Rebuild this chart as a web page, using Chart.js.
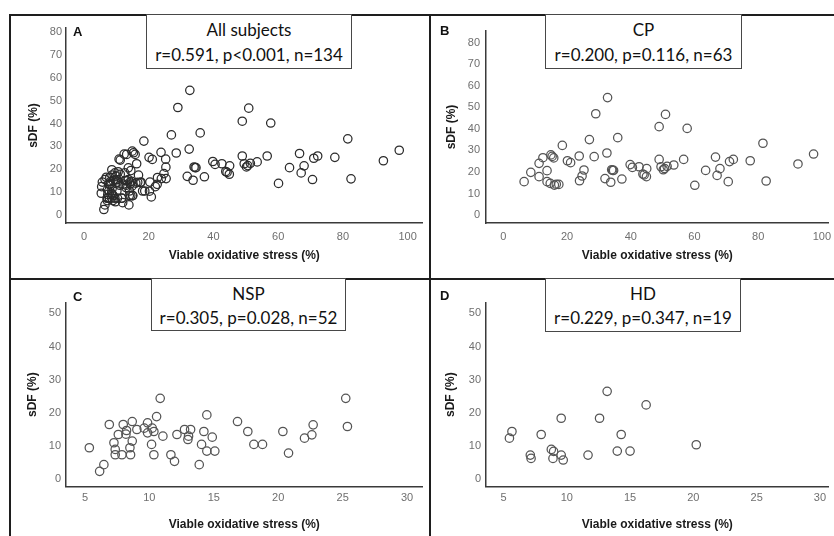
<!DOCTYPE html>
<html><head><meta charset="utf-8">
<script src="https://cdn.jsdelivr.net/npm/chart.js@4"></script>
<style>
html,body{margin:0;padding:0;background:#fff;}
body{width:834px;height:536px;position:relative;overflow:hidden;font-family:"Liberation Sans",Arial,sans-serif;}
canvas{position:absolute;}
.ln{position:absolute;background:#1e1e1e;}
.box{position:absolute;background:#fff;border:1.5px solid #474747;box-sizing:border-box;font-family:Lato,"Open Sans",sans-serif;font-size:17px;color:#111;text-align:center;}
.box div{position:absolute;left:0;right:0;line-height:20px;white-space:nowrap;}
.lbl{position:absolute;font-weight:bold;font-size:13px;line-height:13px;color:#111;}
</style></head>
<body>
<canvas id="cA" width="428" height="276" style="left:0;top:0;width:428px;height:276px"></canvas>
<canvas id="cB" width="402" height="276" style="left:432px;top:0;width:402px;height:276px"></canvas>
<canvas id="cC" width="428" height="256" style="left:0;top:280px;width:428px;height:256px"></canvas>
<canvas id="cD" width="402" height="256" style="left:432px;top:280px;width:402px;height:256px"></canvas>

<div class="ln" style="left:9px;top:14px;width:825px;height:2px"></div>
<div class="ln" style="left:9px;top:14px;width:2px;height:522px"></div>
<div class="ln" style="left:429px;top:14px;width:2px;height:522px"></div>
<div class="ln" style="left:9px;top:278px;width:825px;height:2px"></div>

<div class="box" style="left:146px;top:14px;width:206px;height:55px"><div style="top:5px">All subjects</div><div style="top:30px">r=0.591, p&lt;0.001, n=134</div></div>
<div class="box" style="left:545px;top:14px;width:197px;height:55px"><div style="top:5px">CP</div><div style="top:30px">r=0.200, p=0.116, n=63</div></div>
<div class="box" style="left:151px;top:278px;width:195px;height:53px"><div style="top:5px">NSP</div><div style="top:29px">r=0.305, p=0.028, n=52</div></div>
<div class="box" style="left:545px;top:278px;width:196px;height:54px"><div style="top:5px">HD</div><div style="top:29px">r=0.229, p=0.347, n=19</div></div>

<div class="lbl" style="left:73px;top:25px">A</div>
<div class="lbl" style="left:440px;top:24px">B</div>
<div class="lbl" style="left:73px;top:290px">C</div>
<div class="lbl" style="left:440px;top:289px">D</div>

<script>
// ---- data ----
const xTitle = 'Viable oxidative stress (%)';
const yTitle = 'sDF (%)';

const cpX = [6.5, 8.6, 11.2, 11.2, 12.4, 13.7, 13.7, 14.7, 14.9, 15.8, 16.0, 17.4, 18.5, 20.1, 21.1, 23.8, 23.9, 24.7, 25.3, 27.0, 28.5, 29.0, 32.5, 31.9, 32.7, 33.7, 34.3, 34.6, 35.9, 37.2, 39.8, 40.5, 42.6, 43.8, 44.9, 45.0, 48.9, 48.9, 49.5, 50.2, 50.9, 51.4, 53.5, 56.6, 57.7, 60.1, 63.5, 66.6, 67.1, 68.0, 70.6, 71.0, 72.2, 77.5, 81.5, 82.5, 92.5, 97.4, 15.3, 34.0, 50.6, 44.2, 16.6];
const cpY = [15.5, 19.8, 24.0, 17.8, 26.6, 20.6, 15.5, 14.7, 27.9, 26.5, 13.9, 14.2, 32.3, 25.2, 24.3, 27.4, 15.9, 18.1, 20.9, 35.0, 27.1, 47.0, 28.8, 16.9, 54.5, 15.2, 20.7, 20.7, 35.9, 16.7, 23.4, 22.1, 22.4, 19.0, 17.8, 21.5, 41.0, 25.8, 22.4, 21.0, 46.7, 22.6, 23.2, 25.8, 40.2, 13.8, 20.7, 26.9, 18.4, 21.5, 15.5, 24.8, 25.8, 25.2, 33.3, 15.8, 23.7, 28.3, 27.2, 21.0, 21.6, 18.6, 14.3];

const nspX = [5.34, 6.14, 6.47, 6.89, 7.25, 7.35, 7.35, 7.59, 7.97, 7.87, 8.18, 8.23, 8.49, 8.54, 8.67, 8.67, 9.03, 9.60, 9.86, 9.86, 10.17, 10.22, 10.35, 10.35, 10.56, 10.84, 11.05, 11.67, 11.95, 12.14, 12.73, 12.99, 13.04, 13.20, 13.87, 14.05, 14.23, 14.46, 14.46, 14.88, 15.08, 16.84, 17.64, 18.11, 18.78, 20.36, 20.80, 22.04, 22.61, 22.71, 25.24, 25.37];
const nspY = [9.5, 2.4, 4.4, 16.5, 11.0, 9.0, 7.4, 13.5, 16.5, 7.4, 13.6, 14.7, 9.5, 7.4, 17.4, 11.5, 15.0, 15.4, 17.0, 14.0, 10.5, 15.4, 14.4, 7.4, 18.9, 24.4, 13.0, 7.4, 5.4, 13.5, 15.0, 12.0, 13.0, 15.0, 4.4, 10.5, 14.4, 19.4, 8.5, 12.7, 8.5, 17.4, 14.4, 10.5, 10.5, 14.4, 7.9, 12.4, 13.4, 16.4, 24.4, 15.9];

const hdX = [5.67, 5.47, 7.98, 7.12, 7.18, 9.56, 8.78, 8.96, 8.91, 9.56, 9.72, 11.68, 12.59, 13.19, 14.30, 13.99, 15.00, 16.27, 20.23];
const hdY = [14.4, 12.4, 13.5, 7.3, 6.3, 18.4, 9.0, 8.4, 6.3, 7.3, 5.8, 7.3, 18.4, 26.5, 13.5, 8.5, 8.5, 22.4, 10.4];

const allX = cpX.concat(nspX, hdX);
const allY = cpY.concat(nspY, hdY);

const ticksWideX = [0, 20, 40, 60, 80, 100];
const ticksWideY = [0, 10, 20, 30, 40, 50, 60, 70, 80];
const ticksNarrowX = [5, 10, 15, 20, 25, 30];
const ticksNarrowY = [0, 10, 20, 30, 40, 50];

// ---- drawing ----
const zip = (xs, ys) => xs.map((x, i) => ({x: x, y: ys[i]}));
const tickFont = {family: 'Liberation Sans', size: 11};
const titleFont = {family: 'Liberation Sans', size: 12, weight: 'bold'};

function makeChart(id, pts, o) {
  return new Chart(document.getElementById(id), {
    type: 'scatter',
    data: {datasets: [{
      data: pts,
      pointRadius: 4.2, pointHoverRadius: 4.2,
      pointBorderWidth: 1.25,
      pointBorderColor: o.color,
      pointBackgroundColor: 'rgba(255,255,255,0)',
      showLine: false
    }]},
    options: {
      responsive: false, animation: false, events: [],
      layout: {padding: {top: o.padTop, right: o.padRight, left: 0, bottom: 0}},
      plugins: {legend: {display: false}, tooltip: {enabled: false}},
      scales: {
        x: {
          type: 'linear', min: o.xMin, max: o.xMax,
          afterBuildTicks: s => { s.ticks = o.xTicks.map(v => ({value: v})); },
          afterFit: s => { s.height = o.xH; s.paddingLeft = 0; s.paddingRight = 0; },
          grid: {display: false, drawTicks: false},
          border: {display: true, color: '#3a3a3a', width: 1.5},
          ticks: {color: '#6f6f6f', font: tickFont, padding: o.xTickPad, maxRotation: 0, autoSkip: false},
          title: {display: true, text: xTitle, color: '#1a1a1a', font: titleFont, padding: {top: 0, bottom: o.xTitlePad}}
        },
        y: {
          type: 'linear', min: o.yMin, max: o.yMax,
          afterBuildTicks: s => { s.ticks = o.yTicks.map(v => ({value: v})); },
          afterFit: s => { s.width = o.yW; s.paddingTop = 0; s.paddingBottom = 0; },
          grid: {display: false, drawTicks: false},
          border: {display: true, color: '#3a3a3a', width: 1.5},
          ticks: {color: '#6f6f6f', font: tickFont, padding: o.yTickPad, autoSkip: false},
          title: {display: true, text: yTitle, color: '#1a1a1a', font: titleFont, padding: {top: o.yTitlePad, bottom: 0}}
        }
      }
    }
  });
}

makeChart('cA', zip(allX, allY), {
  color: '#2c2c2c', padTop: 28, padRight: 5, xH: 53, yW: 66,
  xMin: -5.56, xMax: 104.6, yMin: -3.5, yMax: 81.75,
  xTicks: ticksWideX, yTicks: ticksWideY,
  xTickPad: 7, yTickPad: 4, xTitlePad: 12.8, yTitlePad: 26.8
});
makeChart('cB', zip(cpX, cpY), {
  color: '#555555', padTop: 31, padRight: 0, xH: 53, yW: 54,
  xMin: -5.47, xMax: 102.1, yMin: -3.7, yMax: 85.4,
  xTicks: ticksWideX, yTicks: ticksWideY,
  xTickPad: 7, yTickPad: 6, xTitlePad: 12.8, yTitlePad: 12.8
});
makeChart('cC', zip(nspX, nspY), {
  color: '#555555', padTop: 22.7, padRight: 5, xH: 49.3, yW: 66,
  xMin: 3.53, xMax: 31.2, yMin: -2.23, yMax: 53.2,
  xTicks: ticksNarrowX, yTicks: ticksNarrowY,
  xTickPad: 5, yTickPad: 5, xTitlePad: 4.5, yTitlePad: 25.3
});
makeChart('cD', zip(hdX, hdY), {
  color: '#555555', padTop: 22.7, padRight: 0, xH: 49.3, yW: 54,
  xMin: 3.62, xMax: 30.68, yMin: -2.23, yMax: 53.2,
  xTicks: ticksNarrowX, yTicks: ticksNarrowY,
  xTickPad: 5, yTickPad: 5, xTitlePad: 4.5, yTitlePad: 11.3
});
</script>
</body></html>
